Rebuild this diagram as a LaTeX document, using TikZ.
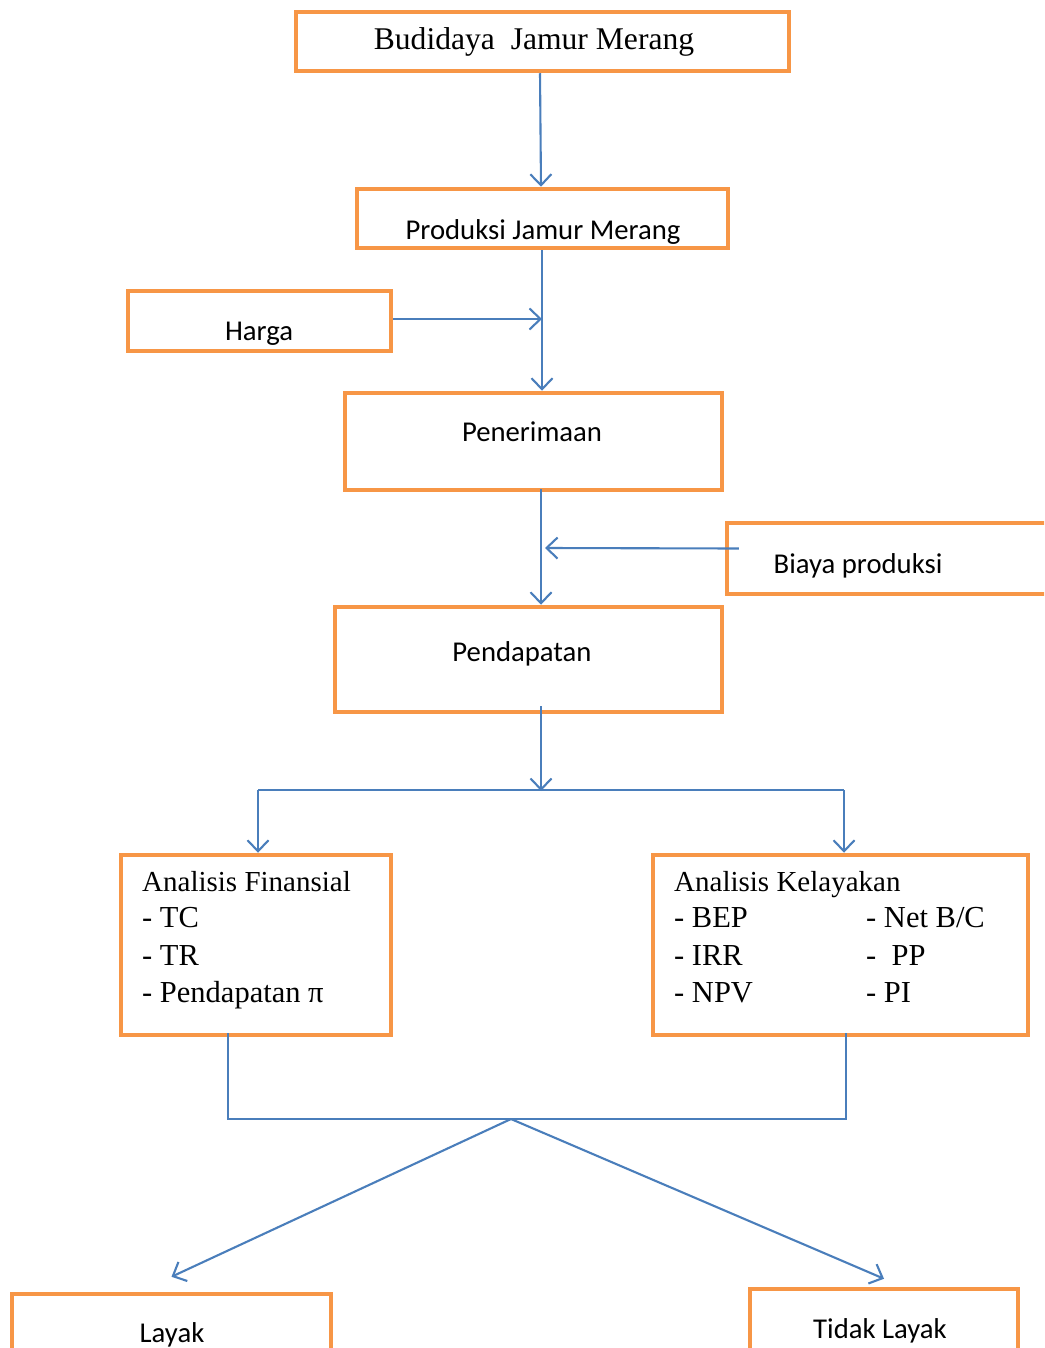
\documentclass[tikz,border=0pt]{standalone}
\usepackage{fontspec}
\setmainfont{Liberation Serif}
\newfontfamily\calfont{Carlito}
\usetikzlibrary{arrows.meta,fit}
\definecolor{orangeC}{HTML}{F79646}
\definecolor{blueC}{HTML}{4A7EBB}
\tikzset{
  obox/.style={draw=orangeC, line width=4.5pt, inner sep=0pt, rectangle},
  ctext/.style={anchor=base, inner sep=0pt, font=\calfont\fontsize{28.7}{32}\selectfont},
  stext/.style={anchor=base west, inner sep=0pt, font=\fontsize{29}{34}\selectfont},
  ltext/.style={anchor=base west, inner sep=0pt, font=\fontsize{30.5}{34}\selectfont},
  conn/.style={draw=blueC, line width=2.1pt},
  arr/.style={conn, -{Straight Barb[length=11pt,width=21pt]}}
}
\begin{document}
\begin{tikzpicture}[x=1pt,y=-1pt]
\useasboundingbox (0,0) rectangle (1044,1348);
\clip (0,0) rectangle (1044,1348);
% boxes
\node[obox, fit={(296,12) (789,71)}] (b1) {};
\node[obox, fit={(357,189) (728,248)}] (b2) {};
\node[obox, fit={(128,291) (391,351)}] (harga) {};
\node[obox, fit={(345,393) (722,490)}] (pen) {};
\node[obox, fit={(727,523) (1060,594)}] (biaya) {};
\node[obox, fit={(335,607) (722,712)}] (pend) {};
\node[obox, fit={(121,855) (391,1035)}] (fin) {};
\node[obox, fit={(653,855) (1028,1035)}] (kel) {};
\node[obox, fit={(12,1294) (331,1380)}] (layak) {};
\node[obox, fit={(750,1289) (1018,1380)}] (tidak) {};
% texts
\node[anchor=base, inner sep=0pt, font=\fontsize{31.6}{36}\selectfont] (t1) at (534,50) {Budidaya\ \ Jamur Merang};
\node[ctext] (t2) at (543,240) {Produksi Jamur Merang};
\node[ctext] (th) at (259,340) {Harga};
\node[ctext] (tp) at (532,441) {Penerimaan};
\node[ctext] (tb) at (858,573) {Biaya produksi};
\node[ctext] (td) at (522,661) {Pendapatan};
\node[ctext] (tl) at (172,1342) {Layak};
\node[ctext] (tt) at (880,1338) {Tidak Layak};
% analisis finansial
\node[stext] (f0) at (142,891) {Analisis Finansial};
\node[ltext] (f1) at (142,927) {- TC};
\node[ltext] (f2) at (142,965) {- TR};
\node[ltext] (f3) at (142,1002) {- Pendapatan π};
% analisis kelayakan
\node[stext] (k0) at (674,891) {Analisis Kelayakan};
\node[ltext] (k1) at (674,927) {- BEP};
\node[ltext] (k2) at (674,965) {- IRR};
\node[ltext] (k3) at (674,1002) {- NPV};
\node[ltext] (k4) at (866,927) {- Net B/C};
\node[ltext] (k5) at (866,965) {-\ \ PP};
\node[ltext] (k6) at (866,1002) {- PI};
% coordinates
\coordinate (s0) at (540,0);
\coordinate (sq) at (542,0);
\coordinate (sp) at (541,0);
\coordinate (bpt) at (545,548);
\coordinate (jM) at (541,790);
\coordinate (jL) at (258,790);
\coordinate (jR) at (844,790);
\coordinate (mL) at (228,1119);
\coordinate (mR) at (846,1119);
\coordinate (mid) at (511,1119);
% connectors
\draw[arr] (b1.south -| s0) -- (b2.north -| sp);
\draw[arr] (b2.south -| sq) -- (pen.north -| sq);
\draw[arr] ([yshift=2pt]harga.east) -- ([yshift=2pt]harga.east -| sq);
\draw[arr] ([yshift=3pt]pen.south -| sp) -- (pend.north -| sp);
\draw[arr] ([shift={(14,-10)}]biaya.west) -- (bpt);
\draw[arr] ([yshift=8pt]pend.south -| sp) -- ([yshift=-1pt]jM);
\draw[conn] (jL) -- (jR);
\draw[arr] (jL) -- (jL |- fin.north);
\draw[arr] (jR) -- (jR |- kel.north);
\draw[conn] ([yshift=4pt]fin.south -| mL) -- (mL) -- (mR) -- ([yshift=4pt]kel.south -| mR);
\draw[arr] (mid) -- ([shift={(0,-15)}]layak.north);
\draw[arr] (mid) -- ([shift={(0,-8)}]tidak.north);
\end{tikzpicture}
\end{document}
